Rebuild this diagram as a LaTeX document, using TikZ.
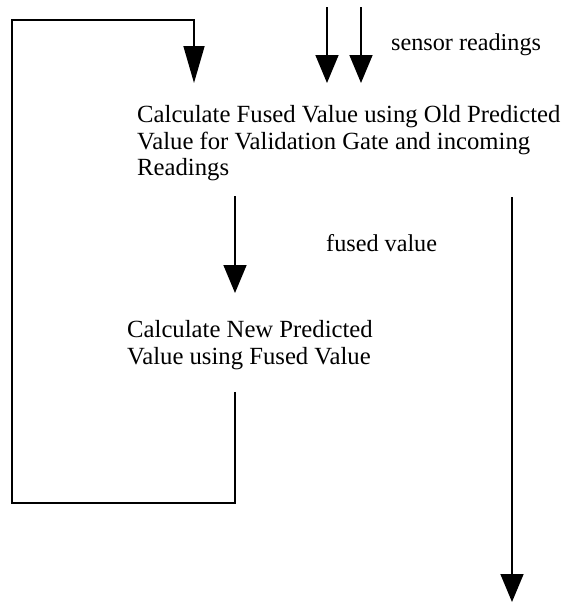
\documentclass[tikz,border=0pt]{standalone}
\usepackage{fontspec}
\setmainfont{Liberation Serif}
\usetikzlibrary{arrows.meta}
\begin{document}
\begin{tikzpicture}[x=1pt,y=-1pt,
  flow/.style={line width=1.6pt,-{Triangle[length=28pt,width=23pt]}},
  loopflow/.style={line width=1.6pt,-{Triangle[length=37pt,width=21pt]}},
  block/.style={inner sep=0pt,font=\fontsize{24.7}{26.5}\selectfont,align=left},
  lbl/.style={inner sep=0pt,font=\fontsize{24.2}{26.5}\selectfont}]
\useasboundingbox (0,0) rectangle (564,603);

\node [block, anchor=north west] (fuse) at (137,105.5) {Calculate Fused Value using Old Predicted\\Value for Validation Gate and incoming\\Readings};
\node [block, anchor=north west] (predict) at (127,320.5) {Calculate New Predicted\\Value using Fused Value};
\node [lbl, anchor=base west] (sensorlbl) at (391,50) {sensor readings};
\node [lbl, anchor=base west] (fusedlbl) at (326,251) {fused value};

\coordinate (r1) at (327,7);
\coordinate (r2) at (361,7);
\coordinate (mid) at (235,0);
\coordinate (out) at (512,602);
\coordinate (lb) at (12,503);
\coordinate (lt) at (12,20);
\coordinate (lr) at (194,20);

\draw [flow, shorten >=22.5pt] (r1) -- (r1 |- fuse.north);
\draw [flow, shorten >=22.5pt] (r2) -- (r2 |- fuse.north);
\draw [flow, shorten <=15pt, shorten >=27.5pt] (mid |- fuse.south) -- (mid |- predict.north);
\draw [flow, shorten <=16pt] (out |- fuse.south) -- (out);
\draw [loopflow, shorten <=22pt, shorten >=22.5pt] (mid |- predict.south) |- (lb) -- (lt) -- (lr) -- (lr |- fuse.north);
\end{tikzpicture}
\end{document}
